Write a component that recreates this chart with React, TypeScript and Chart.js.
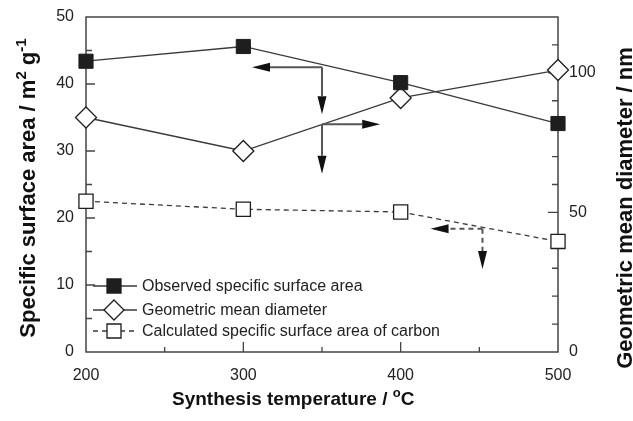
import React, { useEffect, useRef } from 'react';
import { Chart, registerables } from 'chart.js';

Chart.register(...registerables);

const temperatures = [200, 300, 400, 500];
const observedArea = [43.4, 45.6, 40.2, 34.1];
const meanDiameter = [84, 72, 91, 101];
const calculatedArea = [22.5, 21.3, 20.9, 16.5];

const xTicks = [200, 300, 400, 500];
const leftTicks = [0, 10, 20, 30, 40, 50];
const rightTicks = [0, 50, 100];

const legendLabels = [
  'Observed specific surface area',
  'Geometric mean diameter',
  'Calculated specific surface area of carbon',
];

// arrows in data units (left axis): start x, start y, end x, end y
const arrowStartX = [350, 350, 350, 350, 452, 452];
const arrowStartY = [42.5, 42.5, 34.0, 34.0, 18.4, 18.4];
const arrowEndX = [305.5, 350, 387, 350, 419, 452];
const arrowEndY = [42.5, 35.5, 34.0, 26.6, 18.4, 12.4];
const arrowDashed = [false, false, false, false, true, true];

const FONT = "'Liberation Sans', Arial, Helvetica, sans-serif";
const LINE = '#3a3a3a';
const MARK = '#1e1e1e';

type Part = { t: string; sup?: boolean };

function measureRich(ctx: CanvasRenderingContext2D, parts: Part[], size: number, weight: string) {
  let total = 0;
  for (const p of parts) {
    ctx.font = `${weight} ${p.sup ? Math.round(size * 0.68) : size}px ${FONT}`;
    total += ctx.measureText(p.t).width;
  }
  return total;
}

function renderRich(
  ctx: CanvasRenderingContext2D,
  parts: Part[],
  size: number,
  weight: string,
  x: number,
  y: number
) {
  let cx = x;
  for (const p of parts) {
    const s = p.sup ? Math.round(size * 0.68) : size;
    ctx.font = `${weight} ${s}px ${FONT}`;
    ctx.fillText(p.t, cx, p.sup ? y - size * 0.42 : y);
    cx += ctx.measureText(p.t).width;
  }
}

function drawMarker(ctx: CanvasRenderingContext2D, kind: number, x: number, y: number) {
  ctx.save();
  ctx.lineWidth = 1.3;
  ctx.strokeStyle = MARK;
  ctx.beginPath();
  if (kind === 1) {
    const r = 10;
    ctx.moveTo(x - r, y);
    ctx.lineTo(x, y - r);
    ctx.lineTo(x + r, y);
    ctx.lineTo(x, y + r);
    ctx.closePath();
    ctx.fillStyle = '#fff';
  } else {
    const h = 7;
    ctx.rect(x - h, y - h, 2 * h, 2 * h);
    ctx.fillStyle = kind === 0 ? MARK : '#fff';
  }
  ctx.fill();
  ctx.stroke();
  ctx.restore();
}

function arrowHead(ctx: CanvasRenderingContext2D, x0: number, y0: number, x1: number, y1: number) {
  const ang = Math.atan2(y1 - y0, x1 - x0);
  const len = 18;
  const half = 4.5;
  const bx = x1 - Math.cos(ang) * len;
  const by = y1 - Math.sin(ang) * len;
  const nx = -Math.sin(ang);
  const ny = Math.cos(ang);
  ctx.beginPath();
  ctx.moveTo(x1, y1);
  ctx.lineTo(bx + nx * half, by + ny * half);
  ctx.lineTo(bx - nx * half, by - ny * half);
  ctx.closePath();
  ctx.fill();
  return { bx, by };
}

const decorPlugin = {
  id: 'decor',
  beforeDatasetsDraw(chart: any) {
    const { ctx, chartArea: a, scales } = chart;
    ctx.save();
    ctx.strokeStyle = '#444';
    ctx.lineWidth = 1.5;
    ctx.strokeRect(a.left, a.top, a.right - a.left, a.bottom - a.top);
    ctx.lineWidth = 1.3;
    ctx.beginPath();
    for (let v = 250; v < 500; v += 50) {
      const px = scales.x.getPixelForValue(v);
      const L = v % 100 === 0 ? 10 : 5;
      ctx.moveTo(px, a.bottom);
      ctx.lineTo(px, a.bottom - L);
    }
    for (let v = 5; v < 50; v += 5) {
      const py = scales.y.getPixelForValue(v);
      const L = v % 10 === 0 ? 9 : 6;
      ctx.moveTo(a.left, py);
      ctx.lineTo(a.left + L, py);
    }
    for (let v = 10; v < 120; v += 10) {
      const py = scales.y2.getPixelForValue(v);
      const L = v % 50 === 0 ? 10 : 6;
      ctx.moveTo(a.right, py);
      ctx.lineTo(a.right - L, py);
    }
    ctx.stroke();
    ctx.restore();
  },
  afterDatasetsDraw(chart: any) {
    const { ctx, scales } = chart;
    ctx.save();
    for (let i = 0; i < arrowStartX.length; i++) {
      const x0 = scales.x.getPixelForValue(arrowStartX[i]);
      const y0 = scales.y.getPixelForValue(arrowStartY[i]);
      const x1 = scales.x.getPixelForValue(arrowEndX[i]);
      const y1 = scales.y.getPixelForValue(arrowEndY[i]);
      ctx.fillStyle = '#111';
      const { bx, by } = arrowHead(ctx, x0, y0, x1, y1);
      ctx.strokeStyle = '#555';
      ctx.lineWidth = 2;
      ctx.setLineDash(arrowDashed[i] ? [5, 4] : []);
      ctx.beginPath();
      ctx.moveTo(x0, y0);
      ctx.lineTo(bx, by);
      ctx.stroke();
    }
    ctx.setLineDash([]);
    const a = chart.chartArea;
    const rows = [a.bottom - 66, a.bottom - 42, a.bottom - 21];
    for (let i = 0; i < legendLabels.length; i++) {
      const y = rows[i];
      ctx.strokeStyle = LINE;
      ctx.lineWidth = 1.3;
      ctx.setLineDash(i === 2 ? [5, 4] : []);
      ctx.beginPath();
      ctx.moveTo(a.left + 7, y);
      ctx.lineTo(a.left + 51, y);
      ctx.stroke();
      ctx.setLineDash([]);
      drawMarker(ctx, i, a.left + 28, y);
      ctx.fillStyle = '#222';
      ctx.font = `16px ${FONT}`;
      ctx.textBaseline = 'middle';
      ctx.textAlign = 'left';
      ctx.fillText(legendLabels[i], a.left + 56, y + 1);
    }
    ctx.restore();
  },
  afterDraw(chart: any) {
    const { ctx } = chart;
    ctx.save();
    ctx.fillStyle = '#111';
    ctx.textBaseline = 'alphabetic';
    ctx.textAlign = 'left';
    const bottomParts: Part[] = [{ t: 'Synthesis temperature / ' }, { t: 'o', sup: true }, { t: 'C' }];
    renderRich(ctx, bottomParts, 19, 'bold', 172, 405);
    const leftParts: Part[] = [
      { t: 'Specific surface area / m' },
      { t: '2', sup: true },
      { t: ' g' },
      { t: '-1', sup: true },
    ];
    const lw = measureRich(ctx, leftParts, 22, 'bold');
    ctx.save();
    ctx.translate(35, 188);
    ctx.rotate(-Math.PI / 2);
    renderRich(ctx, leftParts, 22, 'bold', -lw / 2, 0);
    ctx.restore();
    const rightParts: Part[] = [{ t: 'Geometric mean diameter / nm' }];
    const rw = measureRich(ctx, rightParts, 22, 'bold');
    ctx.save();
    ctx.translate(632, 208);
    ctx.rotate(-Math.PI / 2);
    renderRich(ctx, rightParts, 22, 'bold', -rw / 2, 0);
    ctx.restore();
    ctx.restore();
  },
};

const zeroPad = (s: any) => {
  s.paddingTop = 0;
  s.paddingBottom = 0;
  s.paddingLeft = 0;
  s.paddingRight = 0;
};

export default function App() {
  const ref = useRef<HTMLCanvasElement | null>(null);
  useEffect(() => {
    if (!ref.current) return;
    const pts = (ys: number[]) => temperatures.map((x, i) => ({ x, y: ys[i] }));
    const tickFont = { family: FONT, size: 16 };
    const chart = new Chart(ref.current, {
      type: 'line',
      data: {
        datasets: [
          {
            label: legendLabels[0],
            data: pts(observedArea),
            yAxisID: 'y',
            borderColor: LINE,
            borderWidth: 1.3,
            pointStyle: 'rect',
            pointRadius: 10,
            pointBackgroundColor: MARK,
            pointBorderColor: MARK,
            pointBorderWidth: 1,
            clip: false,
          },
          {
            label: legendLabels[1],
            data: pts(meanDiameter),
            yAxisID: 'y2',
            borderColor: LINE,
            borderWidth: 1.3,
            pointStyle: 'rectRot',
            pointRadius: 10.5,
            pointBackgroundColor: '#fff',
            pointBorderColor: MARK,
            pointBorderWidth: 1.3,
            clip: false,
          },
          {
            label: legendLabels[2],
            data: pts(calculatedArea),
            yAxisID: 'y',
            borderColor: LINE,
            borderWidth: 1.3,
            borderDash: [5, 4],
            pointStyle: 'rect',
            pointRadius: 10,
            pointBackgroundColor: '#fff',
            pointBorderColor: MARK,
            pointBorderWidth: 1.3,
            clip: false,
          },
        ],
      },
      options: {
        animation: false,
        responsive: true,
        maintainAspectRatio: false,
        events: [],
        layout: { padding: { top: 17, left: 0, right: 0, bottom: 0 } },
        plugins: { legend: { display: false }, tooltip: { enabled: false } },
        scales: {
          x: {
            type: 'linear',
            min: 200,
            max: 500,
            grid: { display: false, drawTicks: false },
            border: { display: false },
            ticks: { font: tickFont, color: '#222', padding: 14 },
            afterBuildTicks: (s: any) => {
              s.ticks = xTicks.map((v) => ({ value: v }));
            },
            afterFit: (s: any) => {
              s.height = 69;
              zeroPad(s);
            },
          },
          y: {
            type: 'linear',
            position: 'left',
            min: 0,
            max: 50,
            grid: { display: false, drawTicks: false },
            border: { display: false },
            ticks: { font: tickFont, color: '#222', padding: 12 },
            afterBuildTicks: (s: any) => {
              s.ticks = leftTicks.map((v) => ({ value: v }));
            },
            afterFit: (s: any) => {
              s.width = 86;
              zeroPad(s);
            },
          },
          y2: {
            type: 'linear',
            position: 'right',
            min: 0,
            max: 120,
            grid: { display: false, drawTicks: false },
            border: { display: false },
            ticks: { font: tickFont, color: '#222', padding: 11 },
            afterBuildTicks: (s: any) => {
              s.ticks = rightTicks.map((v) => ({ value: v }));
            },
            afterFit: (s: any) => {
              s.width = 75;
              zeroPad(s);
            },
          },
        },
      },
      plugins: [decorPlugin],
    } as any);
    return () => chart.destroy();
  }, []);
  return (
    <div style={{ position: 'absolute', left: 0, top: 0, width: 633, height: 421, background: '#fff' }}>
      <canvas ref={ref} />
    </div>
  );
}
